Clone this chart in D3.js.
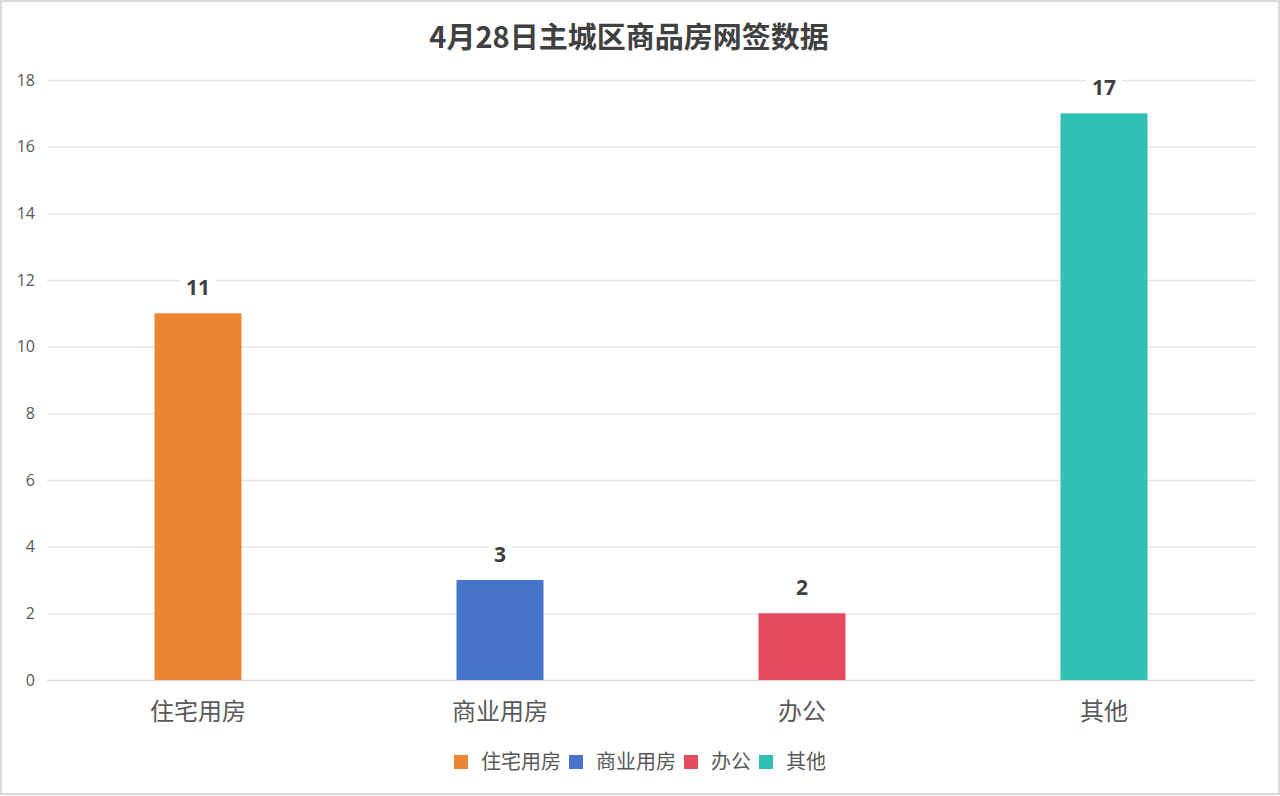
<!DOCTYPE html>
<html><head><meta charset="utf-8">
<script src="https://cdn.jsdelivr.net/npm/d3@7"></script>
<style>
html,body{margin:0;padding:0;background:#fff;}
svg{display:block;}
</style></head>
<body>
<svg id="c" width="1280" height="796"></svg>
<script>
const title = "4月28日主城区商品房网签数据";
const categories = ["住宅用房", "商业用房", "办公", "其他"];
const values = [11, 3, 2, 17];
const colors = ["#ED8432", "#4674CB", "#E44B5D", "#2EC1B4"];
const yTicks = [0, 2, 4, 6, 8, 10, 12, 14, 16, 18];

const svg = d3.select("#c");
const W = 1280, H = 796;
const m = {left: 47, right: 1255, top: 80, bottom: 680};

svg.append("rect").attr("x", 1).attr("y", 1).attr("width", W - 2).attr("height", H - 3)
  .attr("fill", "#fff").attr("stroke", "#d9d9d9").attr("stroke-width", 2);

const x = d3.scaleBand().domain(categories).range([m.left, m.right]).paddingInner(0.712).paddingOuter(0.356);
const y = d3.scaleLinear().domain([0, 18]).range([m.bottom, m.top]);

// gridlines
const yAxis = d3.axisLeft(y).tickValues(yTicks).tickSize(-(m.right - m.left)).tickPadding(10);
const gy = svg.append("g").attr("transform", `translate(${m.left},0)`).call(yAxis);
gy.select(".domain").remove();
gy.selectAll(".tick line").attr("stroke", "#e3e3e3").attr("stroke-width", 1.3);
gy.selectAll(".tick text").attr("fill", "#595959").attr("font-family", "'Open Sans','Noto Sans',sans-serif").attr("font-size", 16).attr("x", -12);
gy.selectAll(".tick").filter(d => d === 0).select("line").attr("stroke", "#d9d9d9").attr("stroke-width", 1.5);

// bars
svg.append("g").selectAll("rect").data(values).join("rect")
  .attr("x", (d, i) => x(categories[i]))
  .attr("y", d => y(d))
  .attr("width", x.bandwidth())
  .attr("height", d => y(0) - y(d))
  .attr("fill", (d, i) => colors[i]);

// value labels
const lg = svg.append("g");
values.forEach((v, i) => {
  const cx = x(categories[i]) + x.bandwidth() / 2;
  const ty = y(v) - 18;
  const t = lg.append("text").attr("x", cx).attr("y", ty)
    .attr("text-anchor", "middle").attr("font-family", "'Open Sans','Noto Sans',sans-serif")
    .attr("font-weight", "bold").attr("font-size", 21).attr("fill", "#404040").text(v);
  const bb = t.node().getBBox();
  lg.insert("rect", "text").attr("x", bb.x - 6).attr("y", bb.y).attr("width", bb.width + 12).attr("height", bb.height).attr("fill", "#fff");
});

// x labels
svg.append("g").selectAll("text").data(categories).join("text")
  .attr("x", d => x(d) + x.bandwidth() / 2).attr("y", 720)
  .attr("text-anchor", "middle").attr("font-family", "'Noto Sans CJK SC',sans-serif")
  .attr("font-size", 24).attr("fill", "#595959").text(d => d);

// title
svg.append("text").attr("x", 629).attr("y", 48).attr("text-anchor", "middle")
  .attr("font-family", "'Noto Sans CJK SC',sans-serif").attr("font-weight", "bold")
  .attr("font-size", 29).attr("fill", "#404040").text(title);

// legend
const leg = svg.append("g");
const legFont = 20;
let lx = 0;
categories.forEach((c, i) => {
  const g = leg.append("g").attr("transform", `translate(${lx},0)`);
  g.append("rect").attr("x", 0).attr("y", -7).attr("width", 14).attr("height", 14).attr("fill", colors[i]);
  const t = g.append("text").attr("x", 27).attr("y", 0).attr("dy", "0.35em")
    .attr("font-family", "'Noto Sans CJK SC',sans-serif").attr("font-size", legFont)
    .attr("fill", "#595959").text(c);
  lx += 27 + t.node().getComputedTextLength() + 8;
});
const totalW = lx - 8;
leg.attr("transform", `translate(${640 - totalW / 2},762)`);
</script>
</body></html>
